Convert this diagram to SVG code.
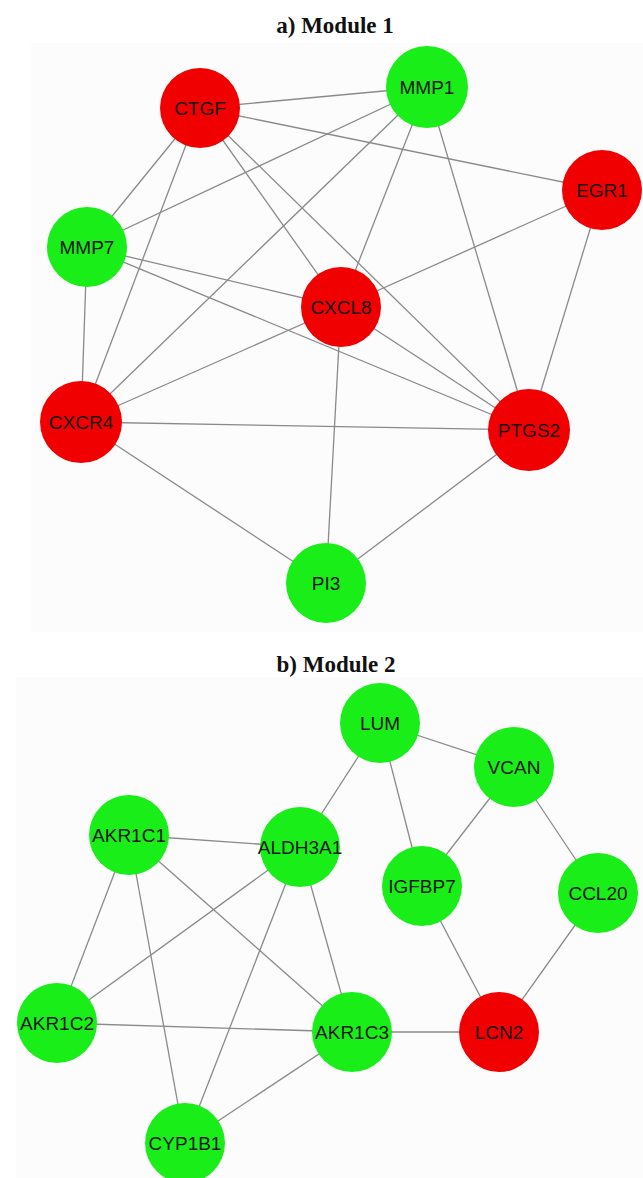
<svg xmlns="http://www.w3.org/2000/svg" width="643" height="1178" viewBox="0 0 643 1178">
<style>
.title{font-family:"Liberation Serif","Times New Roman",serif;font-weight:bold;font-size:23px;fill:#111;text-anchor:middle}
.edge{stroke:#8a8a8a;stroke-width:1.3;fill:none}
.up{fill:#f00000}
.down{fill:#19ee19}
.lbl{font-family:"Liberation Sans",Arial,sans-serif;font-size:19px;fill:#151515;text-anchor:middle}
</style>
<rect x="0" y="0" width="643" height="1178" fill="#ffffff"/>
<rect x="31" y="43" width="612" height="589" fill="#fcfcfc"/>
<rect x="16" y="677" width="627" height="501" fill="#fcfcfc"/>
<text class="title" x="335" y="33">a) Module 1</text>
<text class="title" x="336" y="672">b) Module 2</text>
<g id="connectors">
<line class="edge" x1="200" y1="108" x2="427" y2="87"/>
<line class="edge" x1="200" y1="108" x2="602" y2="190"/>
<line class="edge" x1="200" y1="108" x2="87" y2="247"/>
<line class="edge" x1="200" y1="108" x2="81" y2="422"/>
<line class="edge" x1="200" y1="108" x2="341" y2="307"/>
<line class="edge" x1="200" y1="108" x2="529" y2="430"/>
<line class="edge" x1="427" y1="87" x2="87" y2="247"/>
<line class="edge" x1="427" y1="87" x2="81" y2="422"/>
<line class="edge" x1="427" y1="87" x2="341" y2="307"/>
<line class="edge" x1="427" y1="87" x2="529" y2="430"/>
<line class="edge" x1="602" y1="190" x2="341" y2="307"/>
<line class="edge" x1="602" y1="190" x2="529" y2="430"/>
<line class="edge" x1="87" y1="247" x2="341" y2="307"/>
<line class="edge" x1="87" y1="247" x2="529" y2="430"/>
<line class="edge" x1="87" y1="247" x2="81" y2="422"/>
<line class="edge" x1="341" y1="307" x2="81" y2="422"/>
<line class="edge" x1="341" y1="307" x2="529" y2="430"/>
<line class="edge" x1="341" y1="307" x2="326" y2="583"/>
<line class="edge" x1="81" y1="422" x2="529" y2="430"/>
<line class="edge" x1="81" y1="422" x2="326" y2="583"/>
<line class="edge" x1="529" y1="430" x2="326" y2="583"/>
<line class="edge" x1="380" y1="723" x2="514" y2="767"/>
<line class="edge" x1="380" y1="723" x2="300" y2="847"/>
<line class="edge" x1="380" y1="723" x2="422" y2="886"/>
<line class="edge" x1="514" y1="767" x2="422" y2="886"/>
<line class="edge" x1="514" y1="767" x2="598" y2="893"/>
<line class="edge" x1="422" y1="886" x2="499" y2="1032"/>
<line class="edge" x1="598" y1="893" x2="499" y2="1032"/>
<line class="edge" x1="499" y1="1032" x2="352" y2="1032"/>
<line class="edge" x1="129" y1="835" x2="300" y2="847"/>
<line class="edge" x1="129" y1="835" x2="57" y2="1023"/>
<line class="edge" x1="129" y1="835" x2="185" y2="1143"/>
<line class="edge" x1="129" y1="835" x2="352" y2="1032"/>
<line class="edge" x1="300" y1="847" x2="57" y2="1023"/>
<line class="edge" x1="300" y1="847" x2="185" y2="1143"/>
<line class="edge" x1="300" y1="847" x2="352" y2="1032"/>
<line class="edge" x1="57" y1="1023" x2="352" y2="1032"/>
<line class="edge" x1="352" y1="1032" x2="185" y2="1143"/>
</g>
<g id="CTGF"><circle class="up" cx="200" cy="108" r="40"/><text class="lbl" x="200" y="115">CTGF</text></g>
<g id="MMP1"><circle class="down" cx="427" cy="87" r="41"/><text class="lbl" x="427" y="94">MMP1</text></g>
<g id="EGR1"><circle class="up" cx="602" cy="190" r="40"/><text class="lbl" x="602" y="197">EGR1</text></g>
<g id="MMP7"><circle class="down" cx="87" cy="247" r="40"/><text class="lbl" x="87" y="254">MMP7</text></g>
<g id="CXCL8"><circle class="up" cx="341" cy="307" r="40"/><text class="lbl" x="341" y="314">CXCL8</text></g>
<g id="CXCR4"><circle class="up" cx="81" cy="422" r="41"/><text class="lbl" x="81" y="429">CXCR4</text></g>
<g id="PTGS2"><circle class="up" cx="529" cy="430" r="41"/><text class="lbl" x="529" y="437">PTGS2</text></g>
<g id="PI3"><circle class="down" cx="326" cy="583" r="40"/><text class="lbl" x="326" y="590">PI3</text></g>
<g id="LUM"><circle class="down" cx="380" cy="723" r="40"/><text class="lbl" x="380" y="730">LUM</text></g>
<g id="VCAN"><circle class="down" cx="514" cy="767" r="40"/><text class="lbl" x="514" y="774">VCAN</text></g>
<g id="AKR1C1"><circle class="down" cx="129" cy="835" r="40"/><text class="lbl" x="129" y="842">AKR1C1</text></g>
<g id="ALDH3A1"><circle class="down" cx="300" cy="847" r="40"/><text class="lbl" x="300" y="854">ALDH3A1</text></g>
<g id="IGFBP7"><circle class="down" cx="422" cy="886" r="40"/><text class="lbl" x="422" y="893">IGFBP7</text></g>
<g id="CCL20"><circle class="down" cx="598" cy="893" r="40"/><text class="lbl" x="598" y="900">CCL20</text></g>
<g id="AKR1C2"><circle class="down" cx="57" cy="1023" r="40"/><text class="lbl" x="57" y="1030">AKR1C2</text></g>
<g id="AKR1C3"><circle class="down" cx="352" cy="1032" r="40"/><text class="lbl" x="352" y="1039">AKR1C3</text></g>
<g id="LCN2"><circle class="up" cx="499" cy="1032" r="40"/><text class="lbl" x="499" y="1039">LCN2</text></g>
<g id="CYP1B1"><circle class="down" cx="185" cy="1143" r="40"/><text class="lbl" x="185" y="1150">CYP1B1</text></g>
</svg>
